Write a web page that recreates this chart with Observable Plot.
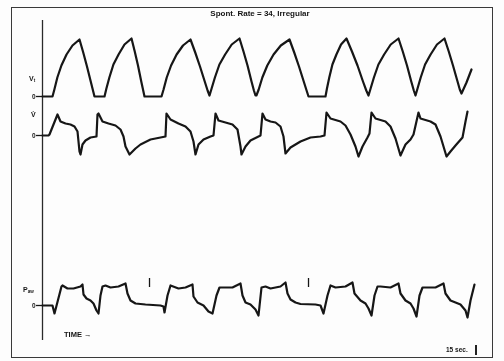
<!DOCTYPE html>
<html><head><meta charset="utf-8">
<script src="https://cdn.jsdelivr.net/npm/d3@7"></script>
<script src="https://cdn.jsdelivr.net/npm/@observablehq/plot@0.6"></script>
<style>
body{margin:0;background:#fff;}
#c{position:relative;width:504px;height:361px;overflow:hidden;background:#fdfdfb;font-family:"Liberation Sans",Arial,sans-serif;color:#151515;filter:grayscale(1);}
#frame{position:absolute;left:11px;top:7px;width:482px;height:351px;border:1.5px solid #3a3a3a;box-sizing:border-box;}
.lbl{position:absolute;font-weight:bold;font-size:7px;line-height:1;white-space:nowrap;}
.lbl sub{font-size:4.5px;vertical-align:-1px;}
.p{position:absolute;left:0;}
.p svg{overflow:visible;}
</style></head><body><div id="c">
<div id="frame"></div>
<div class="lbl" style="left:150px;width:220px;top:10px;text-align:center;font-size:8px">Spont. Rate = 34, Irregular</div>
<div class="lbl" style="left:29px;top:75px">V<sub>t</sub></div>
<div class="lbl" style="left:31px;top:111px">V&#775;</div>
<div class="lbl" style="left:23px;top:286px">P<sub>aw</sub></div>
<div class="lbl" style="left:64px;top:331px;font-size:7.5px">TIME &#8594;</div>
<div class="lbl" style="left:446px;top:347px;font-size:6.5px">15 sec.</div>
<div style="position:absolute;left:475px;top:345px;width:1.5px;height:10px;background:#222"></div>
<div class="p" id="pv" style="top:20px"></div>
<div class="p" id="pf" style="top:102px"></div>
<div class="p" id="pp" style="top:172px"></div>
</div>
<script>
// time in seconds, deflections in arbitrary chart units (up = positive)
const vtT = [0,0.333,
  0.396,0.495,0.63,0.801,0.999,1.233, 1.358,1.483,1.608,1.683,1.733, 2.067,
  2.13,2.229,2.364,2.535,2.733,2.967, 3.075,3.183,3.292,3.357,3.4, 3.967,
  4.035,4.141,4.286,4.47,4.683,4.933, 5.091,5.25,5.408,5.503,5.567,
  5.637,5.747,5.897,6.087,6.307,6.567, 6.7,6.834,6.967,7.047,7.1,7.13,
  7.207,7.328,7.493,7.702,7.944,8.233, 8.391,8.55,8.708,8.803,8.867, 9.433,
  9.482,9.559,9.664,9.797,9.951,10.133, 10.316,10.5,10.683,10.793,10.867,
  10.937,11.047,11.197,11.387,11.607,11.867, 12.009,12.15,12.292,12.377,12.433,
  12.501,12.607,12.752,12.936,13.149,13.4, 13.542,13.683,13.825,13.91,13.967,
  14.133,14.3];
const vtV = [0,0,
  7,19,31,42,51,57, 44,30,15,6,0, 0,
  8,19,32,42,52,58, 45,31,15,6,0, 0,
  7,19,31,42,51,57, 44,30,15,6,1,
  8,19,32,42,52,58, 45,31,15,6,1,1,
  7,19,31,42,51,57, 44,30,15,6,0, 0,
  8,19,32,42,52,58, 45,31,15,6,1,
  8,19,32,42,52,58, 45,31,15,6,1,
  8,19,32,42,52,58, 45,31,16,7,3,
  14,27];

const flowT = [0,0.2,0.233,0.5,0.6,0.767,0.933,1.067,1.167,1.2,1.233,1.267,1.333,1.433,1.6,1.8,
  1.833,1.867,2,2.2,2.433,2.6,2.7,2.767,2.9,3.1,3.267,3.6,3.933,4.1,
  4.133,4.267,4.533,4.767,4.933,5.033,5.1,5.2,5.367,5.6,5.7,
  5.767,5.867,6.1,6.333,6.5,6.6,6.633,6.767,6.933,7.2,7.267,
  7.333,7.433,7.6,7.767,7.933,8.033,8.1,8.267,8.6,8.933,9.267,9.4,
  9.467,9.6,9.933,10.1,10.267,10.433,10.533,10.667,10.833,10.9,
  10.967,11.1,11.433,11.6,11.767,11.933,12.1,12.267,12.367,
  12.533,12.6,12.933,13.1,13.267,13.467,13.6,13.767,14,14.1,14.167];
const flowV = [0,0,1,21,14,12,11,9,4,-6,-16,-19,-9,-5,-2,-1,
  21,22,14,12,10,6,-1,-11,-19,-13,-9,-4,-2,-1,
  22,16,12,9,4,-6,-19,-9,-4,-1,0,
  22,15,13,11,6,-11,-19,-11,-5,-1,0,
  22,16,14,13,9,-1,-18,-12,-6,-2,-1,0,
  23,17,14,10,1,-11,-21,-11,-2,2,
  23,17,14,9,-3,-20,-9,-4,1,
  23,17,14,11,-1,-21,-16,-10,-2,14,24];

const pawT = [0,0.333,0.4,0.633,0.667,0.833,1.033,1.267,1.333,1.367,1.467,1.6,1.7,1.8,1.867,
  1.933,2,2.1,2.267,2.533,2.767,2.833,2.933,3.1,3.433,3.933,4.033,4.067,
  4.167,4.267,4.533,4.767,5,5.033,5.167,5.367,5.533,5.667,
  5.8,5.9,6.1,6.333,6.6,6.667,6.767,6.933,7.1,7.2,
  7.3,7.433,7.6,7.933,8.1,8.167,8.267,8.433,8.6,9.1,9.267,9.367,
  9.5,9.6,9.767,10.1,10.333,10.4,10.6,10.767,10.867,10.967,
  11.067,11.167,11.267,11.6,11.867,11.933,12.1,12.267,12.367,12.467,
  12.567,12.667,12.767,13.1,13.367,13.433,13.6,13.767,13.933,14.1,14.167,14.267,14.4];
const pawV = [0,0,-8,19,20,17,17,19,21,11,7,5,2,-5,-8,
  10,19,20,18,19,22,12,5,2,1,0,-1,-7,
  10,20,17,18,21,9,3,0,-6,-8,
  10,18,18,18,22,10,3,1,-4,-10,
  18,19,17,19,23,12,6,3,1.5,1,0,-8,
  10,20,18,19,23,12,5,2,-3,-10,
  10,19,19,18,22,12,5,2,-3,-11,
  10,18,18,18,22,12,5,3,1,-5,-12,5,21];

const markT = [3.567, 8.867];
const markLo = [18, 18];
const markHi = [27, 27];

const ink = "#161616";
const vt = vtT.map((t,i)=>({t, v: vtV[i]}));
const flow = flowT.map((t,i)=>({t, v: flowV[i]}));
const paw = pawT.map((t,i)=>({t, v: pawV[i]}));
const marks = markT.map((t,i)=>({t, lo: markLo[i], hi: markHi[i]}));

function panel(data, h, ydom, extra=[]) {
  return Plot.plot({
    width: 504, height: h,
    marginLeft: 42, marginRight: 12, marginTop: 0, marginBottom: 0,
    style: {background: "transparent", fontFamily: "Liberation Sans, sans-serif"},
    x: {domain: [0, 15], axis: null},
    y: {domain: ydom, axis: null},
    marks: [
      Plot.ruleX([0], {stroke: "#2a2a2a", strokeWidth: 1.3}),
      Plot.axisY({ticks: [0], tickSize: 6, tickPadding: 1, tickFormat: () => "0", label: null,
        fontSize: 6.5, fontWeight: "bold", stroke: ink, strokeWidth: 1.3, fill: ink}),
      Plot.line(data, {x: "t", y: "v", stroke: ink, strokeWidth: 2.2,
        strokeLinejoin: "round", strokeLinecap: "round"}),
      ...extra
    ]
  });
}

document.getElementById("pv").append(panel(vt, 82, [-6, 76]));
document.getElementById("pf").append(panel(flow, 70, [-37, 33]));
document.getElementById("pp").append(panel(paw, 168, [-35, 133], [
  Plot.ruleX(marks, {x: "t", y1: "lo", y2: "hi", stroke: ink, strokeWidth: 1.3})
]));
</script>
</body></html>
